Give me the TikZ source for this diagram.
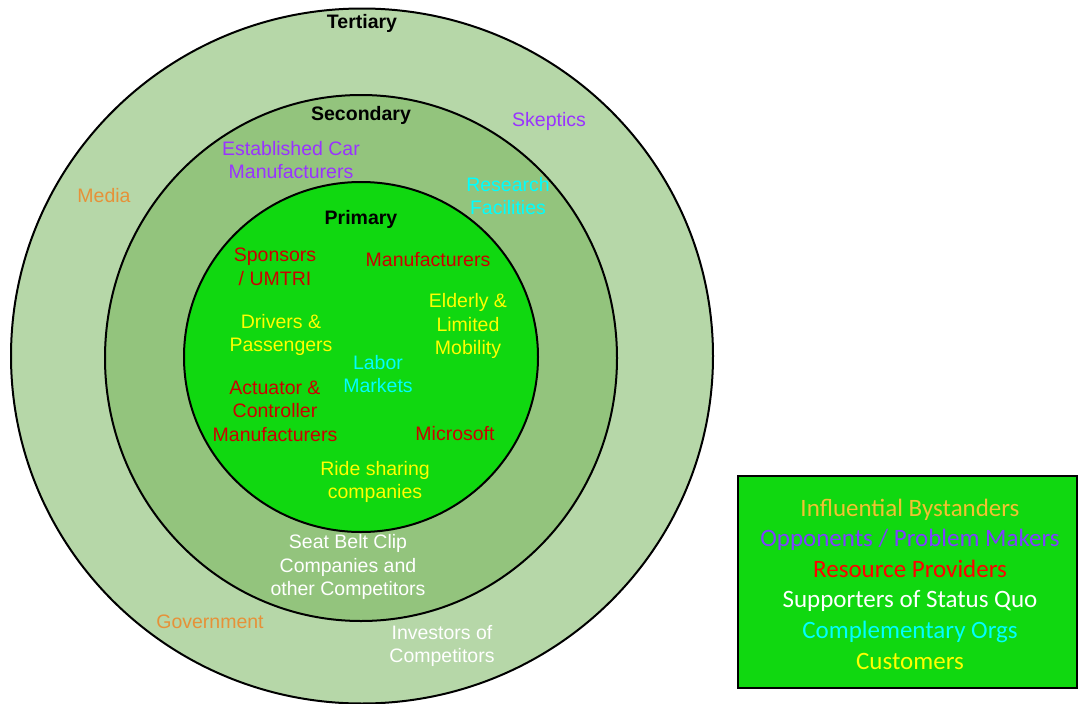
\documentclass[tikz,border=0pt]{standalone}
\usepackage{fontspec}
\setmainfont{Liberation Sans}
\newfontfamily\legfont{Carlito}
\usetikzlibrary{positioning,shapes.geometric}

\definecolor{tertgreen}{RGB}{182,215,168}
\definecolor{secgreen}{RGB}{147,196,125}
\definecolor{primgreen}{RGB}{16,216,16}
\definecolor{bystander}{RGB}{230,145,56}
\definecolor{opponent}{RGB}{153,51,255}
\definecolor{provider}{RGB}{204,0,0}
\definecolor{complement}{RGB}{0,255,255}
\definecolor{customer}{RGB}{255,255,0}
\definecolor{legbystander}{RGB}{241,194,50}
\definecolor{legopponent}{RGB}{127,63,255}
\definecolor{legprovider}{RGB}{255,0,0}

\begin{document}
\begin{tikzpicture}[x=1pt, y=-1pt,
  every node/.style={font=\fontsize{19.5}{23.5}\selectfont, align=center, inner sep=0pt},
  ring/.style={ellipse, draw=black, line width=2pt, inner sep=0pt},
  head/.style={font=\fontsize{19.5}{23.5}\selectfont\bfseries, text=black},
  byst/.style={text=bystander},
  opp/.style={text=opponent},
  prov/.style={text=provider},
  quo/.style={text=white},
  comp/.style={text=complement},
  cust/.style={text=customer},
  leg/.style={font=\legfont\fontsize{25}{28}\selectfont, anchor=base}]

\useasboundingbox (0,0) rectangle (1080,704);

\node[ring, fill=tertgreen, minimum width=702pt, minimum height=695pt] (tert) at (362,356) {};
\node[ring, fill=secgreen, minimum width=512pt, minimum height=526pt] (sec) at (361,358) {};
\node[ring, fill=primgreen, minimum width=354pt, minimum height=350pt] (prim) at (361,357) {};

\node[head] (terthead) at (362,23) {Tertiary};
\node[head] (sechead) at (361,115) {Secondary};
\node[head] (primhead) at (361,219) {Primary};

\node[byst] (media) at (104,196) {Media};
\node[byst] (gov) at (210,622) {Government};
\node[opp] (skep) at (549,121) {Skeptics};
\node[quo] (invest) at (442,646) {Investors of\\Competitors};

\node[opp] (estab) at (291,160) {Established Car\\Manufacturers};
\node[comp] (research) at (508,196) {Research\\Facilities};
\node[quo] (seatbelt) at (348,567) {Seat Belt Clip\\Companies and\\other Competitors};

\node[prov] (sponsor) at (275,267) {Sponsors\\/ UMTRI};
\node[prov] (manuf) at (428,260) {Manufacturers};
\node[cust] (elderly) at (468,326) {Elderly \&\\Limited\\Mobility};
\node[cust] (drivers) at (281,335) {Drivers \&\\Passengers};
\node[comp] (labor) at (378,374) {Labor\\Markets};
\node[prov] (actuator) at (275,411) {Actuator \&\\Controller\\Manufacturers};
\node[prov] (msoft) at (455,434) {Microsoft};
\node[cust] (ride) at (375,482) {Ride sharing\\companies};

\node[draw=black, line width=2pt, fill=primgreen, minimum width=339pt, minimum height=212pt] (legbox) at (907,581.5) {};
\node[leg, text=legbystander] (l1) at (910,516) {Influential Bystanders};
\node[leg, text=legopponent] (l2) at ([yshift=-30.6pt]l1.base) {Opponents / Problem Makers};
\node[leg, text=legprovider] (l3) at ([yshift=-30.6pt]l2.base) {Resource Providers};
\node[leg, text=white] (l4) at ([yshift=-30.6pt]l3.base) {Supporters of Status Quo};
\node[leg, text=complement] (l5) at ([yshift=-30.6pt]l4.base) {Complementary Orgs};
\node[leg, text=customer] (l6) at ([yshift=-30.6pt]l5.base) {Customers};
\end{tikzpicture}
\end{document}
